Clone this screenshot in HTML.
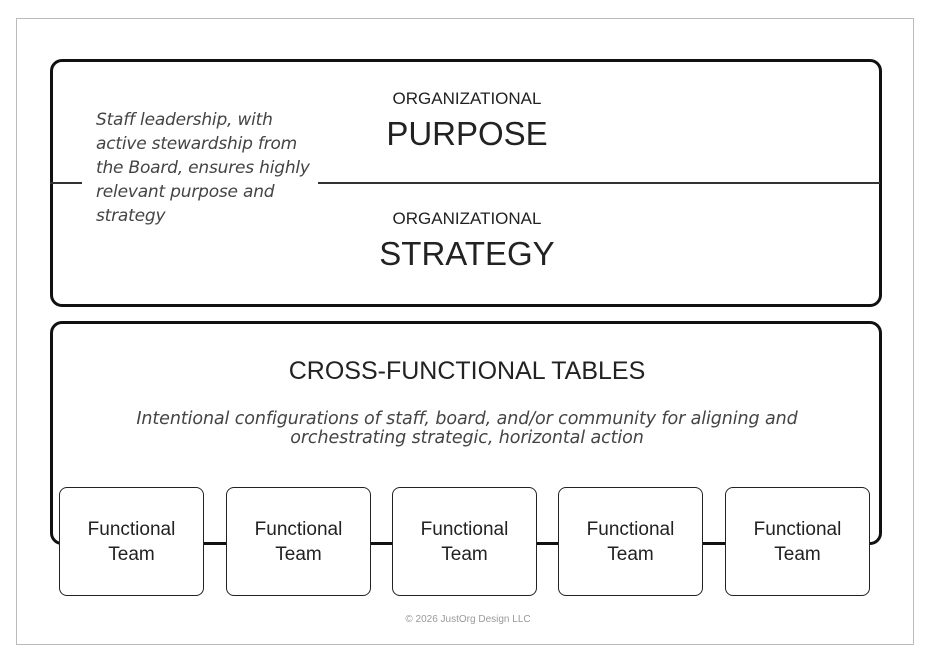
<!DOCTYPE html>
<html><head><style>
body{margin:0;width:936px;height:666px;background:#fff;position:relative;font-family:"Liberation Sans",sans-serif;overflow:hidden}
.a{position:absolute}
.frame{left:16px;top:18px;width:896px;height:625px;border:1px solid #bbb}
.top{left:50px;top:59px;width:826px;height:242px;border:3px solid #111;border-radius:12px}
.low{left:50px;top:321px;width:826px;height:218px;border:3px solid #111;border-radius:12px}
.c{text-align:center;color:#222;width:300px}
.team{width:143px;height:107px;border:1.5px solid #222;border-radius:8px;background:#fff;display:flex;align-items:center;justify-content:center;text-align:center;font-size:19px;line-height:25px;color:#222}
.note{left:96px;top:108px;font-style:italic;line-height:24px;color:#444;font-family:"DejaVu Sans",sans-serif;letter-spacing:-0.2px;font-size:17px}
</style></head><body>
<div class="a frame"></div>
<div class="a top"></div>
<div class="a" style="left:50px;top:182px;width:32px;height:1.5px;background:#333"></div>
<div class="a" style="left:318px;top:182px;width:562px;height:1.5px;background:#333"></div>
<div class="a c" style="left:317px;top:89px;font-size:17px">ORGANIZATIONAL</div>
<div class="a c" style="left:317px;top:115px;font-size:33px">PURPOSE</div>
<div class="a c" style="left:317px;top:209px;font-size:17px">ORGANIZATIONAL</div>
<div class="a c" style="left:317px;top:235px;font-size:33px">STRATEGY</div>
<div class="a note">Staff leadership, with<br>active stewardship from<br>the Board, ensures highly<br>relevant purpose and<br>strategy</div>
<div class="a low"></div>
<div class="a c" style="left:267px;top:357px;width:400px;font-size:25px">CROSS-FUNCTIONAL TABLES</div>
<div class="a" style="left:60px;top:410px;width:814px;text-align:center;font-style:italic;font-family:'DejaVu Sans',sans-serif;font-size:17.5px;line-height:19px;color:#444;letter-spacing:-0.1px">Intentional configurations of staff, board, and/or community for aligning and<br>orchestrating strategic, horizontal action</div>
<div class="a team" style="left:59px;top:487px">Functional<br>Team</div>
<div class="a team" style="left:226px;top:487px">Functional<br>Team</div>
<div class="a team" style="left:392px;top:487px">Functional<br>Team</div>
<div class="a team" style="left:558px;top:487px">Functional<br>Team</div>
<div class="a team" style="left:725px;top:487px">Functional<br>Team</div>
<div class="a" style="left:0;top:614px;width:936px;text-align:center;font-size:10px;color:#999">© 2026 JustOrg Design LLC</div>
</body></html>
